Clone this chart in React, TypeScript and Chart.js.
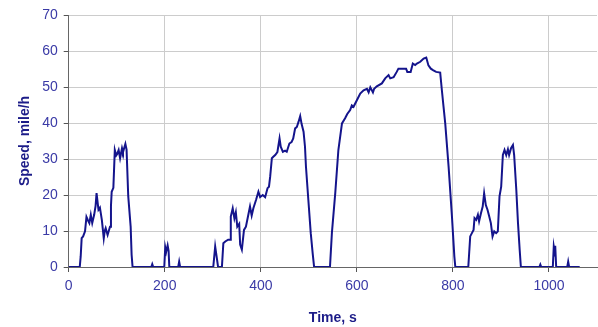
import React, { useEffect, useRef } from "react";
import { Chart, registerables } from "chart.js";

Chart.register(...registerables);

const timeS: number[] = [
  0, 23, 25, 27, 30, 34, 37, 40, 43, 46, 49, 53, 56, 58, 62, 65, 69, 73, 75, 77, 81, 86, 88, 89.5, 93, 96, 99, 101, 104, 107, 111, 113, 118, 120.5, 124, 129, 131, 133,
  172, 174, 176, 199, 201, 203, 206, 208, 209.5, 228, 230, 232,
  301, 305, 308, 311, 319, 322, 326, 332, 336, 337.5, 341.5, 345, 348, 351, 355, 357, 360.5, 365, 369, 374, 377.5, 381, 384.5, 390, 395, 398.5, 404, 409, 414, 417, 419.5, 423, 426, 430, 434.5, 439, 441.5, 446, 450.5, 454, 459.5, 464, 467.5, 471.5, 475, 478.5, 482, 485, 489, 492, 494, 499, 504, 508, 511,
  544, 548, 555, 561.5, 569, 575.5, 580, 586, 589.5, 593, 600, 607, 614, 621, 624.5, 628, 633.5, 636, 641.5, 652, 659, 666, 669.5, 676.5, 683, 686.5, 693.5, 702.5, 705, 712, 716.5, 721.5, 725, 732, 739, 744.5, 749, 754, 758.5, 765, 773.5, 777, 780.5, 784, 791, 798, 803, 805,
  832, 836, 839.5, 843, 845, 848.5, 852, 854.5, 858.5, 862, 865, 868.5, 872, 875.5, 879, 882.5, 886, 890, 893.5, 897, 900.5, 904, 907.5, 911, 914.5, 917, 921, 925, 927.5, 932, 935.5, 939, 941.5,
  980, 982, 984, 1008, 1010, 1011.5, 1013, 1015, 1038, 1040, 1042, 1064,
];

const speedMph: number[] = [
  0, 0, 3, 8, 8.5, 9.9, 13.9, 13, 12.2, 14.5, 12.2, 14.5, 17, 20.5, 15.9, 16.5, 13.1, 8, 10, 10.8, 8.9, 11.2, 17, 20.9, 22, 32.5, 31, 31.4, 32.5, 30.2, 33, 31.9, 34.2, 32.6, 19.6, 11.2, 3.4, 0,
  0, 0.8, 0, 0, 5.5, 4.2, 6, 4.5, 0, 0, 1.5, 0,
  0, 5.7, 2.9, 0, 0, 6.6, 7.1, 7.6, 7.6, 14, 16.3, 13.5, 15.2, 11.2, 12, 6.2, 4.8, 10.3, 11.2, 14.5, 16.8, 14.3, 16.3, 18.6, 20.9, 19.4, 20, 19.4, 21.9, 22.3, 25.1, 30.2, 30.6, 31.1, 31.9, 35.7, 33.4, 32, 32.3, 32, 34.3, 34.7, 35.7, 38.5, 38.9, 40.3, 41.9, 39.7, 37.6, 33.4, 27.9, 18.6, 9.4, 3.8, 0,
  0, 9.4, 20.5, 32.5, 39.9, 41.3, 42.5, 43.6, 44.9, 44.5, 46.3, 48.2, 49.1, 49.5, 48.5, 49.9, 48.5, 49.5, 50.2, 51, 52.4, 53.3, 52.4, 52.7, 54.2, 55.1, 55.1, 55.1, 54.2, 54.2, 56.5, 56.1, 56.5, 57, 57.9, 58.2, 56, 55.1, 54.7, 54.2, 54, 49.1, 44.5, 39.9, 27.9, 14, 2.9, 0,
  0, 8.5, 9.4, 10.3, 13.6, 13.1, 14.5, 12.7, 15, 16.8, 20.5, 17.2, 15.9, 14.1, 12.2, 8.5, 9.9, 9.4, 9.9, 19.6, 22.3, 31.1, 32.5, 31.1, 32.7, 31.1, 33, 33.9, 31.1, 21.4, 12.2, 4.8, 0,
  0, 0.7, 0, 0, 5.7, 4.5, 5.9, 0, 0, 1.5, 0, 0,
];

const xTitle = "Time, s";
const yTitle = "Speed, mile/h";

const FONT = 'Arial, "Liberation Sans", sans-serif';
const TICK_COLOR = "#3a3aa6";
const TITLE_COLOR = "#1c1c88";
const LINE_COLOR = "#14148c";

export default function App() {
  const ref = useRef<HTMLCanvasElement | null>(null);

  useEffect(() => {
    document.body.style.margin = "0";
    const canvas = ref.current;
    if (!canvas) return;
    const points = timeS.map((t, i) => ({ x: t, y: speedMph[i] }));
    const chart = new Chart(canvas, {
      type: "line",
      data: {
        datasets: [
          {
            data: points,
            borderColor: LINE_COLOR,
            borderWidth: 2,
            pointRadius: 0,
            tension: 0,
            fill: false,
          },
        ],
      },
      options: {
        animation: false,
        responsive: false,
        maintainAspectRatio: false,
        layout: { padding: { top: 15, right: 1, left: 0, bottom: 0 } },
        plugins: { legend: { display: false }, tooltip: { enabled: false } },
        scales: {
          x: {
            type: "linear",
            min: 0,
            max: 1100,
            afterFit: (s: any) => {
              s.height = 60;
            },
            ticks: {
              stepSize: 200,
              includeBounds: false,
              color: TICK_COLOR,
              font: { family: FONT, size: 14 },
              padding: 6,
              maxRotation: 0,
              callback: (v: any) => String(v),
            },
            grid: { color: "#cccccc", tickColor: "#555555", tickLength: 5, lineWidth: 1 },
            border: { color: "#666666", width: 1 },
            title: {
              display: true,
              text: xTitle,
              color: TITLE_COLOR,
              font: { family: FONT, size: 14, weight: "bold" },
              padding: { top: 0, bottom: 0 },
            },
          },
          y: {
            min: 0,
            max: 70,
            afterFit: (s: any) => {
              s.width = 68.7;
            },
            ticks: {
              stepSize: 10,
              color: TICK_COLOR,
              font: { family: FONT, size: 14 },
              padding: 6,
              callback: (v: any) => String(v),
            },
            grid: { color: "#cccccc", tickColor: "#555555", tickLength: 5, lineWidth: 1 },
            border: { color: "#666666", width: 1 },
            title: {
              display: true,
              text: yTitle,
              color: TITLE_COLOR,
              font: { family: FONT, size: 14, weight: "bold" },
              padding: { top: 17, bottom: 0 },
            },
          },
        },
      },
    });
    return () => chart.destroy();
  }, []);

  return (
    <div style={{ width: 598, height: 327, position: "relative", background: "#fff" }}>
      <canvas ref={ref} width={598} height={327} style={{ width: 598, height: 327, display: "block" }} />
    </div>
  );
}
